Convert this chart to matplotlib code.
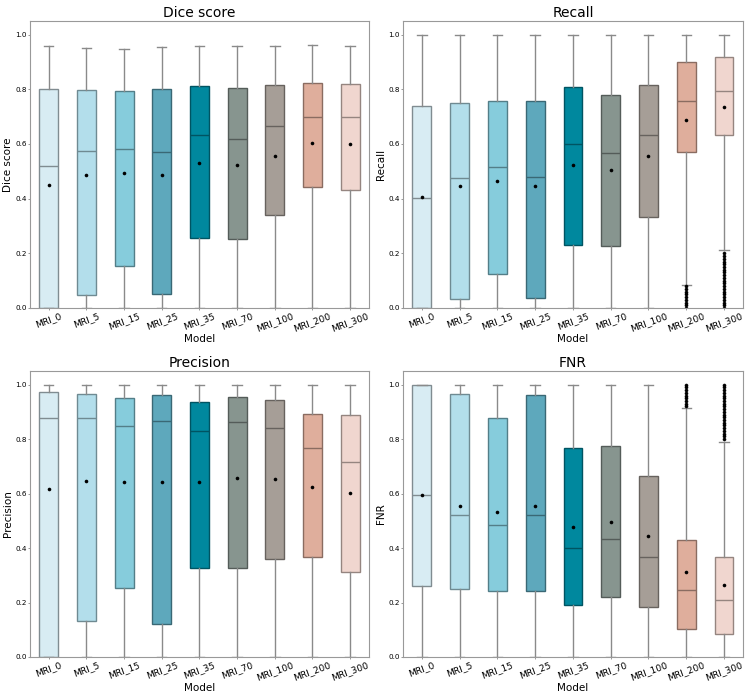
import numpy as np
import matplotlib
matplotlib.use("Agg")
import matplotlib.pyplot as plt
from matplotlib.colors import to_rgb

# ---------- DATA ----------
models = ["MRI_0", "MRI_5", "MRI_15", "MRI_25", "MRI_35",
          "MRI_70", "MRI_100", "MRI_200", "MRI_300"]

colors = ["#D8ECF3", "#B3DEEB", "#86CCDC", "#5EA8BC", "#00889E",
          "#87958F", "#A69E97", "#DFAE9C", "#F0D6CF"]

# Dice score
dice_lo = [0, 0, 0, 0, 0, 0, 0, 0, 0]
dice_q1 = [0.0, 0.048, 0.153, 0.050, 0.256, 0.254, 0.341, 0.444, 0.433]
dice_med = [0.521, 0.576, 0.583, 0.570, 0.634, 0.620, 0.667, 0.700, 0.697]
dice_q3 = [0.801, 0.798, 0.795, 0.801, 0.813, 0.803, 0.814, 0.822, 0.818]
dice_hi = [0.957, 0.952, 0.946, 0.956, 0.957, 0.957, 0.957, 0.961, 0.957]
dice_mean = [0.451, 0.485, 0.495, 0.485, 0.532, 0.524, 0.556, 0.603, 0.599]

# Recall
rec_lo = [0, 0, 0, 0, 0, 0, 0, 0.084, 0.211]
rec_q1 = [0.0, 0.033, 0.123, 0.037, 0.231, 0.227, 0.334, 0.572, 0.634]
rec_med = [0.403, 0.477, 0.517, 0.480, 0.601, 0.568, 0.634, 0.757, 0.793]
rec_q3 = [0.740, 0.751, 0.757, 0.757, 0.809, 0.778, 0.815, 0.899, 0.917]
rec_hi = [1, 1, 1, 1, 1, 1, 1, 1, 1]
rec_mean = [0.407, 0.445, 0.466, 0.447, 0.522, 0.505, 0.555, 0.687, 0.736]
rec_fliers_200 = [0.0, 0.01, 0.02, 0.03, 0.04, 0.05, 0.06, 0.07, 0.08]
rec_fliers_300 = [0.0, 0.01, 0.02, 0.03, 0.04, 0.05, 0.06, 0.07, 0.08, 0.09, 0.10,
                  0.11, 0.12, 0.13, 0.14, 0.15, 0.16, 0.17, 0.18, 0.19, 0.20]

# Precision
prec_lo = [0, 0, 0, 0, 0, 0, 0, 0, 0]
prec_q1 = [0.0, 0.131, 0.252, 0.121, 0.328, 0.328, 0.361, 0.366, 0.311]
prec_med = [0.878, 0.879, 0.848, 0.868, 0.829, 0.862, 0.841, 0.767, 0.716]
prec_q3 = [0.972, 0.967, 0.952, 0.963, 0.935, 0.956, 0.945, 0.894, 0.889]
prec_hi = [1, 1, 1, 1, 1, 1, 1, 1, 1]
prec_mean = [0.615, 0.647, 0.641, 0.643, 0.643, 0.659, 0.655, 0.626, 0.601]

# FNR
fnr_lo = [0, 0, 0, 0, 0, 0, 0, 0, 0]
fnr_q1 = [0.259, 0.249, 0.244, 0.244, 0.191, 0.221, 0.182, 0.101, 0.083]
fnr_med = [0.595, 0.523, 0.483, 0.520, 0.399, 0.432, 0.366, 0.246, 0.209]
fnr_q3 = [1.0, 0.967, 0.877, 0.963, 0.768, 0.773, 0.665, 0.428, 0.366]
fnr_hi = [1, 1, 1, 1, 1, 1, 1, 0.916, 0.791]
fnr_mean = [0.593, 0.555, 0.533, 0.554, 0.479, 0.495, 0.446, 0.312, 0.264]
fnr_fliers_200 = [0.92, 0.93, 0.94, 0.95, 0.96, 0.97, 0.98, 0.99, 1.0]
fnr_fliers_300 = [0.80, 0.81, 0.82, 0.83, 0.84, 0.85, 0.86, 0.87, 0.88, 0.89, 0.90,
                  0.91, 0.92, 0.93, 0.94, 0.95, 0.96, 0.97, 0.98, 0.99, 1.0]


def make_stats(lo, q1, med, q3, hi, mean, fliers=None):
    fliers = fliers or {}
    stats = []
    for i in range(len(models)):
        stats.append(dict(whislo=lo[i], q1=q1[i], med=med[i], q3=q3[i],
                          whishi=hi[i], mean=mean[i],
                          fliers=fliers.get(i, [])))
    return stats


panels = [
    ("Dice score", "Dice score",
     make_stats(dice_lo, dice_q1, dice_med, dice_q3, dice_hi, dice_mean)),
    ("Recall", "Recall",
     make_stats(rec_lo, rec_q1, rec_med, rec_q3, rec_hi, rec_mean,
                {7: rec_fliers_200, 8: rec_fliers_300})),
    ("Precision", "Precision",
     make_stats(prec_lo, prec_q1, prec_med, prec_q3, prec_hi, prec_mean)),
    ("FNR", "FNR",
     make_stats(fnr_lo, fnr_q1, fnr_med, fnr_q3, fnr_hi, fnr_mean,
                {7: fnr_fliers_200, 8: fnr_fliers_300})),
]

# ---------- FIGURE ----------
fig = plt.figure(figsize=(7.47, 6.99), dpi=100)
rects = [
    [0.040, 0.5594, 0.454, 0.4106],
    [0.5395, 0.5594, 0.455, 0.4106],
    [0.040, 0.0601, 0.454, 0.4091],
    [0.5395, 0.0601, 0.455, 0.4091],
]

for (title, ylabel, stats), rect in zip(panels, rects):
    ax = fig.add_axes(rect)
    bp = ax.bxp(stats, positions=np.arange(len(models)), widths=0.5,
                patch_artist=True, showmeans=True, showfliers=True,
                meanprops=dict(marker="o", markerfacecolor="black",
                               markeredgewidth=0, markersize=2.6),
                flierprops=dict(marker="o", markerfacecolor="black",
                                markeredgecolor="black", markersize=2.2,
                                markeredgewidth=0.4, linestyle="none"),
                whiskerprops=dict(color="#8a8a8a", linewidth=1.0),
                capprops=dict(color="#8a8a8a", linewidth=1.0))
    for i, patch in enumerate(bp["boxes"]):
        fc = to_rgb(colors[i])
        ec = tuple(c * 0.62 for c in fc)
        if i == 0:
            ec = (0.5, 0.55, 0.57)
        patch.set_facecolor(fc)
        patch.set_edgecolor(ec)
        patch.set_linewidth(1.0)
        bp["medians"][i].set_color(ec)
        bp["medians"][i].set_linewidth(1.0)

    ax.set_xlim(-0.5, len(models) - 0.5)
    ax.set_ylim(0, 1.05)
    ax.set_yticks([0, 0.2, 0.4, 0.6, 0.8, 1.0])
    ax.set_xticks(np.arange(len(models)))
    ax.set_xticklabels(models, rotation=20, fontsize=6.6)
    ax.tick_params(axis="y", labelsize=5.2)
    ax.tick_params(length=1.5, width=0.6, color="#888888", pad=0.8)
    ax.set_title(title, fontsize=10, pad=3)
    ax.set_xlabel("Model", fontsize=7.5, labelpad=1)
    ax.set_ylabel(ylabel, fontsize=7.5, labelpad=1.5)
    for s in ax.spines.values():
        s.set_color("#999999")

plt.savefig("out.png", dpi=100)
